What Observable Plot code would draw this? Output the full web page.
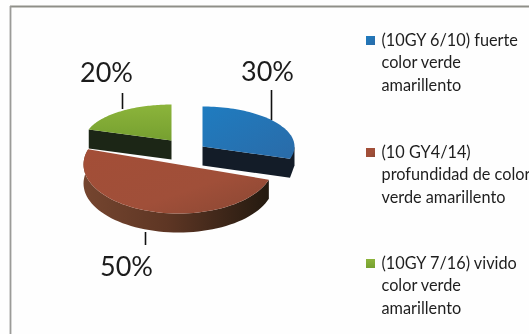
<!DOCTYPE html>
<html>
<head>
<meta charset="utf-8">
<script src="https://cdn.jsdelivr.net/npm/d3@7"></script>
<script src="https://cdn.jsdelivr.net/npm/@observablehq/plot@0.6"></script>
<style>
html,body{margin:0;padding:0;background:#fff;overflow:hidden}
svg{display:block;filter:blur(0.7px)}
</style>
</head>
<body>
<div id="chart"></div>
<script>
const categories = ["blue", "brown", "green"];
const shares = [30, 50, 20];
const percentLabels = ["30%", "50%", "20%"];
const legendLines = [
  ["(10GY 6/10) fuerte", "color verde", "amarillento"],
  ["(10 GY4/14)", "profundidad de color", "verde amarillento"],
  ["(10GY 7/16) vivido", "color verde", "amarillento"]
];

// Scene layout (pixel-aligned scales; geometry is derived from the shares)
const W = 529, H = 334, depth = 19;
const layout = {
  blue:  {cx: 202, cy: 146, rx: 92, ry: 40, top: "url(#gBlue)",  face: "#131c28", rim: "url(#rBlue)"},
  brown: {cx: 178, cy: 164, rx: 95, ry: 49, top: "url(#gBrown)", face: "#3a2418", rim: "url(#rBrown)"},
  green: {cx: 171, cy: 140, rx: 87, ry: 36, top: "url(#gGreen)", face: "#1c2616", rim: "#1c2616"}
};
const leaders = {blue: [271, 90, 120], brown: [145, 232, 245], green: [122, 93, 109]};
const labelPos = {blue: [267, 72], brown: [126, 267], green: [106, 73]};
const swatch = ["url(#gBlue)", "url(#gBrown)", "url(#gGreen)"];
const legendTop = [40, 152, 263];

let acc = 0;
const slices = categories.map((c, i) => {
  const a0 = acc / 100 * 2 * Math.PI; acc += shares[i];
  const a1 = acc / 100 * 2 * Math.PI;
  return {c, a0, a1, ...layout[c]};
});
const pt = (s, a, dy = 0) => ({x: s.cx + s.rx * Math.sin(a), y: s.cy - s.ry * Math.cos(a) + dy});
const arc = (s, from, to, dy = 0) => d3.range(61).map(k => pt(s, from + (to - from) * k / 60, dy));

const poly = (points, fill) => Plot.line([...points, points[0]], {x: "x", y: "y", fill, stroke: "none", curve: "linear"});

const marks = [];
// frame lines
marks.push(Plot.ruleY([6], {x1: 10, x2: W, stroke: "#8f8f88", strokeWidth: 1.8}));
marks.push(Plot.ruleX([10], {y1: 6, y2: H, stroke: "#9b9b98", strokeWidth: 1.8}));

const drawOrder = ["green", "blue", "brown"];
for (const c of drawOrder) {
  const s = slices.find(d => d.c === c);
  const apex = {x: s.cx, y: s.cy}, apexD = {x: s.cx, y: s.cy + depth};
  if (c === "blue") {
    const p = pt(s, s.a1), q = pt(s, s.a1, depth);
    marks.push(poly([apex, p, q, apexD], s.face));
    marks.push(poly([pt(s, Math.PI/2), pt(s, s.a1), q, pt(s, Math.PI/2, depth)], s.rim));
  }
  if (c === "green") {
    const p = pt(s, s.a0), q = pt(s, s.a0, depth);
    marks.push(poly([apex, p, q, apexD], s.face));
  }
  if (c === "brown") {
    const top = arc(s, s.a0, s.a1), bot = arc(s, s.a1, s.a0, depth);
    marks.push(poly([...top, ...bot], s.rim));
  }
  marks.push(poly([apex, ...arc(s, s.a0, s.a1)], s.top));
}

// leader lines and percent labels
categories.forEach((c, i) => {
  const [x, y1, y2] = leaders[c];
  marks.push(Plot.ruleX([x], {y1, y2, stroke: "#111", strokeWidth: 1.6}));
  const [tx, ty] = labelPos[c];
  marks.push(Plot.text([percentLabels[i]], {x: () => tx, y: () => ty, text: d => d, fontSize: 27, fill: "#1c1c1c", textAnchor: "middle", lineAnchor: "middle"}));
});

// legend
legendLines.forEach((lines, i) => {
  marks.push(Plot.rect([0], {x1: () => 366, x2: () => 375, y1: () => legendTop[i] - 4, y2: () => legendTop[i] + 5, fill: swatch[i]}));
  lines.forEach((t, j) => {
    marks.push(Plot.text([t], {x: () => 381, y: () => legendTop[i] + j * 22.4, text: d => d, fontSize: 16.3, fill: "#1e1e1e", textAnchor: "start", lineAnchor: "middle"}));
  });
});

// gradient definitions
marks.push(() => {
  const svg = d3.create("svg:g");
  const defs = svg.append("defs");
  const grad = (id, x2, y2, stops) => {
    const g = defs.append("linearGradient").attr("id", id).attr("x1", 0).attr("y1", 0).attr("x2", x2).attr("y2", y2);
    stops.forEach(([o, col]) => g.append("stop").attr("offset", o).attr("stop-color", col));
  };
  grad("gBlue", 1, 1, [[0, "#1f7cc0"], [1, "#2a6ba8"]]);
  grad("gBrown", 1, 1, [[0, "#a34e37"], [0.6, "#a04f39"], [1, "#8a4733"]]);
  grad("gGreen", 0, 1, [[0, "#8cb43b"], [1, "#76a030"]]);
  grad("rBrown", 1, 0, [[0, "#75452f"], [0.45, "#5e3624"], [1, "#241a10"]]);
  grad("rBlue", 0, 1, [[0, "#131c28"], [1, "#131c28"]]);
  return svg.node();
});

const chart = Plot.plot({
  width: W, height: H,
  margin: 0,
  x: {domain: [0, W], range: [0, W], axis: null},
  y: {domain: [0, H], range: [0, H], axis: null},
  style: {background: "#fefefe", fontFamily: "Lato, 'Open Sans', sans-serif"},
  marks
});
document.getElementById("chart").append(chart);
</script>
</body>
</html>
